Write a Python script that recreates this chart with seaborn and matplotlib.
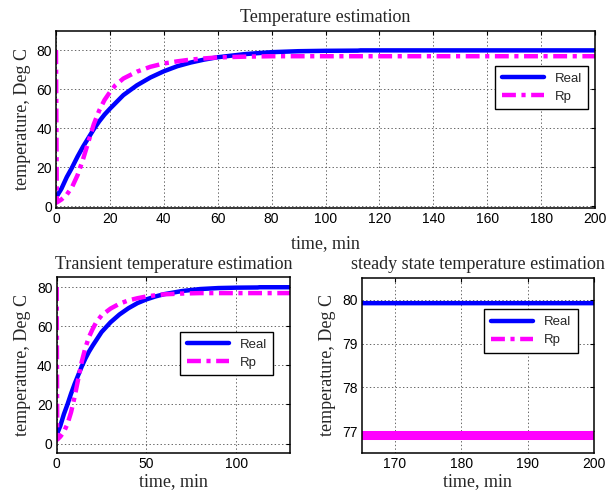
import numpy as np
import pandas as pd
import matplotlib
matplotlib.use("Agg")
import matplotlib.pyplot as plt
import seaborn as sns

# ---- data ----
t_real = [0, 2, 4, 6, 8, 10, 12, 14, 16, 18, 20, 25, 30, 35, 40, 45, 50, 55, 60,
          70, 80, 90, 100, 112, 113, 130, 165, 200]
real = [4.5, 9, 15, 20, 25.5, 30.5, 35, 39.5, 43.5, 47, 50, 57, 62, 66, 69.2, 71.8,
        73.7, 75.2, 76.4, 78, 79, 79.5, 79.7, 79.8, 79.92, 79.92, 79.92, 79.92]

t_rp = [0, 0.3, 2, 4, 6, 8, 10, 12, 14, 16, 18, 20, 22, 25, 30, 35, 40, 45, 50, 55,
        60, 70, 80, 130, 165, 200]
rp = [80, 2, 3.5, 6, 10, 16, 24, 33, 42, 49, 54.5, 58.5, 62, 65.5, 69, 71.5, 73.2,
      74.3, 75.2, 75.8, 76.3, 76.7, 76.92, 76.92, 76.92, 76.92]

series_names = ["Real", "Rp"]
titles = ["Temperature estimation", "Transient temperature estimation",
          "steady state temperature estimation"]
xlabel = "time, min"
ylabel = "temperature, Deg C"

xticks_top = list(range(0, 201, 20))
yticks_top = [0, 20, 40, 60, 80]
xticks_bl = [0, 50, 100]
yticks_bl = [0, 20, 40, 60, 80]
xticks_br = [170, 180, 190, 200]
yticks_br = [77, 78, 79, 80]

df_real = pd.DataFrame({"t": t_real, "v": real})
df_rp = pd.DataFrame({"t": t_rp, "v": rp})

sns.set_style("white")
plt.rcParams["font.family"] = ["Liberation Sans", "DejaVu Sans"]
plt.rcParams["lines.scale_dashes"] = False

SERIF = ["Liberation Serif", "DejaVu Serif"]
BLUE = "#0000ff"
MAG = "#ff00ff"
DASH = (0, (10, 4, 3, 4))

W, H = 614, 493
fig = plt.figure(figsize=(W / 100, H / 100), dpi=100)

def box(l, t, r, b):
    return [l / W, 1 - b / H, (r - l) / W, (b - t) / H]

ax_top = fig.add_axes(box(56, 30.7, 595, 208.3))
ax_bl = fig.add_axes(box(56.7, 277.3, 290, 453.3))
ax_br = fig.add_axes(box(361.7, 277.7, 594, 453.3))

def draw(ax, thick_rp=False):
    sns.lineplot(data=df_real, x="t", y="v", ax=ax, color=BLUE, lw=3.2,
                 label=series_names[0], estimator=None, sort=False)
    if thick_rp:
        ax.plot(df_rp["t"], df_rp["v"], color=MAG, lw=6.5, solid_capstyle="butt")
    sns.lineplot(data=df_rp, x="t", y="v", ax=ax, color=MAG, lw=3.2,
                 linestyle=DASH, label=series_names[1], estimator=None, sort=False)

def style(ax, title, xlim, ylim, xt, yt, leg_box, xpad):
    ax.set_xlim(*xlim)
    ax.set_ylim(*ylim)
    ax.set_xticks(xt)
    ax.set_yticks(yt)
    ax.set_title(title, family=SERIF, fontsize=13, pad=6)
    ax.set_xlabel(xlabel, family=SERIF, fontsize=13, labelpad=xpad)
    ax.set_ylabel(ylabel, family=SERIF, fontsize=13, labelpad=4)
    ax.grid(True, color="0.4", linestyle=":", linewidth=0.7)
    ax.tick_params(direction="in", length=3, width=0.8, top=True, right=True,
                   labelsize=10, pad=3, colors="black")
    for sp in ax.spines.values():
        sp.set_visible(True)
        sp.set_color("black")
        sp.set_linewidth(1.1)
    l, t, r, b = leg_box
    leg = ax.legend(loc="upper right", bbox_to_anchor=(r / W, 1 - t / H),
                    bbox_transform=fig.transFigure, borderaxespad=0,
                    fontsize=9.5, handlelength=3.2, handletextpad=0.8,
                    borderpad=0.5, labelspacing=0.45, fancybox=False,
                    framealpha=1, edgecolor="black")
    leg.get_frame().set_linewidth(1.0)

draw(ax_top)
style(ax_top, titles[0], (0, 200), (-1, 90), xticks_top, yticks_top,
      (497.3, 65.7, 588.3, 108.3), 6)
draw(ax_bl)
style(ax_bl, titles[1], (0, 130), (-5, 85), xticks_bl, yticks_bl,
      (181, 331.7, 273.3, 375), 1.5)
draw(ax_br, thick_rp=True)
style(ax_br, titles[2], (165, 200), (76.5, 80.5), xticks_br, yticks_br,
      (485, 309.3, 577.7, 351.7), 1.5)

fig.savefig("out.png", dpi=100)
